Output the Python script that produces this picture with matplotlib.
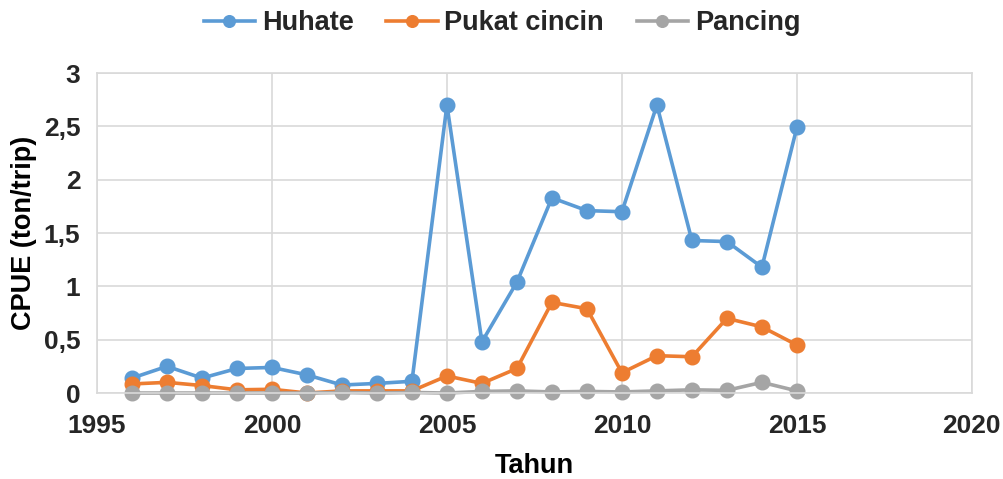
import matplotlib
matplotlib.use("Agg")
import matplotlib.pyplot as plt
from matplotlib.ticker import FuncFormatter

years = list(range(1996, 2016))
huhate = [0.14, 0.25, 0.14, 0.23, 0.24, 0.17, 0.075, 0.09, 0.11, 2.70,
          0.48, 1.04, 1.83, 1.71, 1.70, 2.70, 1.43, 1.42, 1.18, 2.49]
pukat_cincin = [0.085, 0.10, 0.07, 0.03, 0.035, 0.0, 0.02, 0.02, 0.02, 0.16,
                0.09, 0.23, 0.85, 0.79, 0.19, 0.35, 0.34, 0.70, 0.62, 0.45]
pancing = [0.0, 0.0, 0.0, 0.0, 0.0, 0.0, 0.005, 0.0, 0.005, 0.0,
           0.015, 0.02, 0.01, 0.015, 0.01, 0.02, 0.03, 0.025, 0.10, 0.02]

plt.rcParams['font.family'] = ['Liberation Sans', 'DejaVu Sans']
plt.rcParams['font.weight'] = 'bold'

fig = plt.figure(figsize=(10.04, 4.79), dpi=100)
ax = fig.add_axes([0.0966, 0.1795, 0.8714, 0.668])

series = [("Huhate", huhate, "#5B9BD5"),
          ("Pukat cincin", pukat_cincin, "#ED7D31"),
          ("Pancing", pancing, "#A5A5A5")]
for name, vals, col in series:
    ax.plot(years, vals, color=col, lw=2.6, marker='o', ms=10.5, label=name, clip_on=False)

ax.set_xlim(1995, 2020)
ax.set_ylim(0, 3)
ax.set_xticks(range(1995, 2021, 5))
ax.set_yticks([0, 0.5, 1, 1.5, 2, 2.5, 3])
ax.yaxis.set_major_formatter(FuncFormatter(lambda v, p: f"{v:g}".replace('.', ',')))
ax.grid(True, color='#D9D9D9', lw=1.2)
ax.set_axisbelow(True)
for s in ax.spines.values():
    s.set_color('#D9D9D9')
    s.set_linewidth(1.2)
ax.tick_params(length=0, labelsize=19, colors='#262626')
ax.tick_params(axis='y', pad=12)
ax.tick_params(axis='x', pad=15)
for lab in ax.get_xticklabels() + ax.get_yticklabels():
    lab.set_fontweight('bold')

ax.set_xlabel("Tahun", fontsize=19.5, fontweight='bold', color='black', labelpad=11)
ax.set_ylabel("CPUE (ton/trip)", fontsize=19.5, fontweight='bold', color='black', labelpad=4.5)

leg = fig.legend(loc='upper center', bbox_to_anchor=(0.5, 1.03), ncol=3, frameon=False,
                 prop={'size': 19.5, 'weight': 'bold'}, handlelength=1.9, columnspacing=1.2,
                 handletextpad=0.25, markerscale=0.8)
for t in leg.get_texts():
    t.set_color('#262626')

fig.savefig("out.png", dpi=100)
